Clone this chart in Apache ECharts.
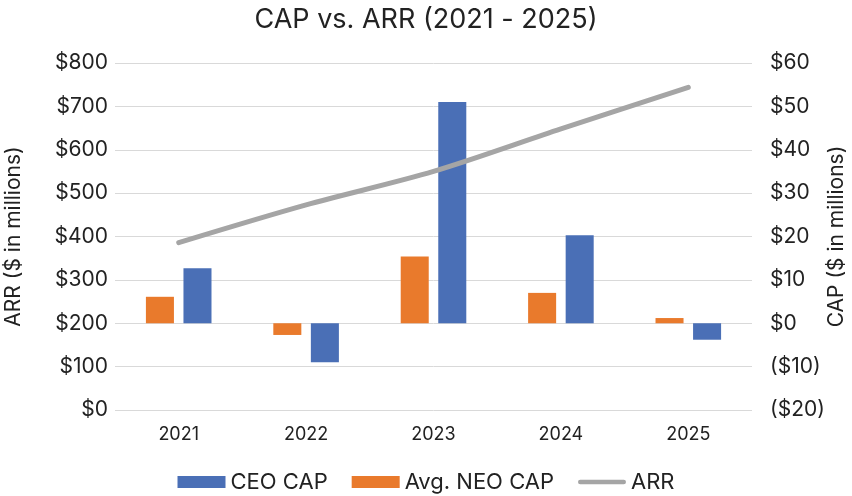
<!DOCTYPE html>
<html><head><meta charset="utf-8">
<script src="https://cdn.jsdelivr.net/npm/echarts@6/dist/echarts.min.js"></script>
<style>html,body{margin:0;padding:0;background:#fff}#c{width:852px;height:496px}</style>
</head><body><div id="c"></div>
<script>
const years = ['2021','2022','2023','2024','2025'];
const ceoCap = [12.7, -9.0, 51.0, 20.3, -3.8];
const neoCap = [6.1, -2.7, 15.4, 7.0, 1.2];
const arr = [386, 473, 550, 648, 744];
const FONT = 'Inter';
const chart = echarts.init(document.getElementById('c'));
chart.setOption({
  animation: false,
  textStyle: {fontFamily: FONT, color: '#222'},
  title: {text: 'CAP vs. ARR (2021 - 2025)', left: 'center', top: 1,
    textStyle: {fontFamily: FONT, fontSize: 27, fontWeight: 'normal', color: '#222'}},
  legend: {top: 466, left: 'center', itemWidth: 48, itemHeight: 12, itemGap: 24,
    data: [{name:'CEO CAP', icon:'rect'}, {name:'Avg. NEO CAP', icon:'rect'},
           {name:'ARR', icon:'path://M2,0 L50,0 A2,2 0 0 1 50,5 L2,5 A2,2 0 0 1 2,0 Z', itemHeight: 5}],
    textStyle: {fontFamily: FONT, fontSize: 22, color: '#222'}},
  grid: {left: 115, right: 100, top: 63, bottom: 86, containLabel: false, outerBoundsMode: 'none'},
  xAxis: {type: 'category', data: years,
    axisLine: {show: false}, axisTick: {show: false},
    axisLabel: {fontSize: 18, color: '#222', margin: 16}},
  yAxis: [
    {type: 'value', min: 0, max: 800, interval: 100, name: 'ARR ($ in millions)',
     nameLocation: 'middle', nameGap: 91, nameMoveOverlap: false, nameTextStyle: {fontSize: 21, color: '#222'},
     axisLabel: {fontSize: 21, color: '#222', margin: 7, formatter: v => '$' + v},
     splitLine: {lineStyle: {color: '#d9d9d9'}}, axisLine: {show: false}, axisTick: {show: false}},
    {type: 'value', min: -20, max: 60, interval: 10, name: 'CAP ($ in millions)',
     nameLocation: 'middle', nameGap: 74, nameMoveOverlap: false, nameTextStyle: {fontSize: 21, color: '#222'},
     axisLabel: {fontSize: 21, color: '#222', margin: 18,
       formatter: v => v < 0 ? '($' + (-v) + ')' : '$' + v},
     splitLine: {show: false}, axisLine: {show: false}, axisTick: {show: false}}
  ],
  series: [
    {name: 'Avg. NEO CAP', type: 'bar', yAxisIndex: 1, data: neoCap, barWidth: '22%', barGap: '34%',
     itemStyle: {color: '#e97a2c'}},
    {name: 'CEO CAP', type: 'bar', yAxisIndex: 1, data: ceoCap, barWidth: '22%', barGap: '34%',
     itemStyle: {color: '#4a6fb6'}},
    {name: 'ARR', type: 'line', yAxisIndex: 0, data: arr, smooth: 0.3, symbol: 'none',
     lineStyle: {color: '#a5a5a5', width: 5, cap: 'round'}, itemStyle: {color: '#a5a5a5'}}
  ]
});
</script></body></html>
